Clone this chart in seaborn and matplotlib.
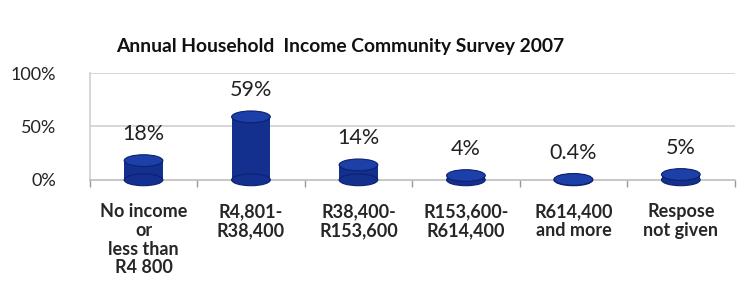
import matplotlib
matplotlib.use("Agg")
import matplotlib.pyplot as plt
import seaborn as sns
import pandas as pd
from matplotlib.patches import Ellipse

categories = ["No income\nor\nless than\nR4 800", "R4,801-\nR38,400", "R38,400-\nR153,600",
              "R153,600-\nR614,400", "R614,400\nand more", "Respose\nnot given"]
values = [18, 59, 14, 4, 0.4, 5]
value_labels = ["18%", "59%", "14%", "4%", "0.4%", "5%"]
y_ticks = [0, 50, 100]
y_tick_labels = ["0%", "50%", "100%"]

sns.set_theme(style="white")
plt.rcParams['font.family'] = ['Lato', 'DejaVu Sans']

df = pd.DataFrame({"cat": categories, "val": values})

fig = plt.figure(figsize=(7.42, 2.81), dpi=100)
ax = fig.add_axes([0.121, 0.36, 0.869, 0.38])

bar_color = "#13308f"
sns.barplot(data=df, x="cat", y="val", color=bar_color, width=0.36, saturation=1,
            ax=ax, zorder=3)

ax.set_ylim(0, 100)
ax.set_xlim(-0.5, len(categories) - 0.5)

# cylinder caps
cap_h = 11
for p in ax.patches:
    p.set_edgecolor("none")
for p, v in zip(list(ax.patches), values):
    xc = p.get_x() + p.get_width() / 2
    w = p.get_width()
    for yy, fc in ((0, bar_color), (v, "#1d3fa8")):
        e = Ellipse((xc, yy), w, cap_h, facecolor=fc, edgecolor="#0c2170",
                    lw=0.8, zorder=4, clip_on=False)
        ax.add_patch(e)

for i, (v, lab) in enumerate(zip(values, value_labels)):
    ax.annotate(lab, (i, v), xytext=(0, 12), textcoords="offset points",
                ha="center", va="bottom", fontsize=15.5, color="#222222")

ax.set_yticks(y_ticks)
ax.set_yticklabels(y_tick_labels, fontsize=13, color="#222222")
ax.tick_params(axis="y", length=4, color="#999999", pad=20)

ax.set_xticks(range(len(categories)))
ax.set_xticklabels(categories, fontsize=13, fontweight="bold",
                   linespacing=1.12, va="top")
ax.tick_params(axis="x", which="major", length=0, pad=17)
ax.set_xticks([i + 0.5 for i in range(-1, len(categories))], minor=True)
ax.tick_params(axis="x", which="minor", length=5, color="#999999", bottom=True)

for yv in (50, 100):
    ax.axhline(yv, color="#d0d0d0", lw=1.2, zorder=1)

for s in ("top", "right"):
    ax.spines[s].set_visible(False)
ax.spines["left"].set_color("#cfcfcf")
ax.spines["bottom"].set_color("#bdbdbd")
ax.spines["left"].set_linewidth(1.2)
ax.spines["bottom"].set_linewidth(1.2)
ax.set_xlabel("")
ax.set_ylabel("")

fig.text(0.458, 0.833, "Annual Household  Income Community Survey 2007",
         ha="center", va="center", fontsize=13.9, fontweight="bold",
         color="#111111")

fig.savefig("out.png", dpi=100)
